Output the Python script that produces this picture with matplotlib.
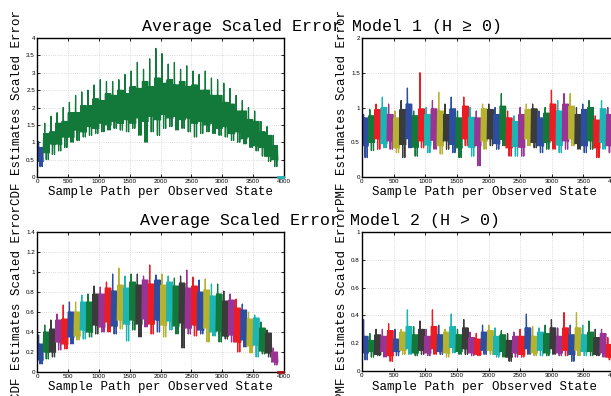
import numpy as np
import matplotlib.pyplot as plt
from matplotlib.ticker import FormatStrFormatter

plt.rcParams.update({
    "font.family": "Liberation Sans",
    "axes.linewidth": 1.0,
    "xtick.direction": "in",
    "ytick.direction": "in",
})

MONO = "Liberation Mono"

COL = {"b": "#2d4da0", "g": "#13793b", "r": "#ec1c24", "c": "#1db4b4",
       "m": "#9a3494", "y": "#b4b22f", "k": "#3b3b3b"}

SEG_L = 100   # samples per observed state, left panels
SEG_R = 99    # samples per observed state, right panels

# ── Model 1, CDF (top left) ─────────────────────────────────────────────────
tl_cols = "b" + "g" * 38
tl_min = [0.30, 0.50, 0.65, 0.75, 0.85, 1.00, 1.05, 1.15, 1.20, 1.25,
          1.30, 1.35, 1.40, 1.35, 1.30, 1.40, 1.20, 1.00, 1.30, 1.20,
          1.40, 1.45, 1.35, 1.40, 1.30, 1.15, 1.25, 1.30, 1.25, 1.20,
          1.15, 1.05, 1.00, 0.95, 0.85, 0.75, 0.60, 0.45, 0.30]
tl_lo = [0.45, 0.70, 0.95, 0.95, 1.15, 1.15, 1.35, 1.30, 1.45, 1.40,
         1.55, 1.50, 1.60, 1.55, 1.65, 1.55, 1.70, 1.60, 1.75, 1.65,
         1.80, 1.70, 1.75, 1.65, 1.70, 1.55, 1.60, 1.50, 1.55, 1.40,
         1.45, 1.25, 1.30, 1.10, 1.15, 0.90, 0.85, 0.60, 0.50]
tl_hi = [0.85, 1.25, 1.30, 1.55, 1.60, 1.85, 1.85, 2.05, 2.05, 2.25,
         2.20, 2.40, 2.35, 2.50, 2.40, 2.60, 2.55, 2.75, 2.60, 2.85,
         2.70, 2.80, 2.65, 2.75, 2.60, 2.65, 2.50, 2.50, 2.35, 2.35,
         2.15, 2.10, 1.90, 1.90, 1.65, 1.60, 1.30, 1.20, 0.90]
tl_max = [1.02, 1.55, 1.75, 1.85, 2.00, 2.15, 2.35, 2.45, 2.50, 2.65,
          2.80, 2.75, 2.75, 2.80, 2.95, 3.05, 3.30, 3.10, 3.40, 3.70,
          3.55, 3.25, 3.30, 3.10, 3.20, 3.05, 2.95, 3.05, 2.85, 2.80,
          2.70, 2.55, 2.35, 2.20, 2.00, 1.90, 1.60, 1.45, 1.20]

# ── Model 1, PMF (top right) ────────────────────────────────────────────────
tr_cols = "bgrcmyk" * 5 + "bgrcm"
tr_min = [0.28, 0.38, 0.40, 0.42, 0.40, 0.35, 0.28, 0.42, 0.30, 0.42,
          0.35, 0.40, 0.33, 0.40, 0.35, 0.28, 0.45, 0.30, 0.16, 0.40,
          0.45, 0.40, 0.45, 0.30, 0.30, 0.30, 0.45, 0.42, 0.35, 0.40,
          0.40, 0.35, 0.40, 0.45, 0.40, 0.35, 0.40, 0.28, 0.40, 0.35]
tr_lo = [0.45, 0.50, 0.55, 0.48, 0.52, 0.42, 0.47, 0.55, 0.43, 0.52,
         0.46, 0.53, 0.45, 0.52, 0.47, 0.42, 0.55, 0.43, 0.45, 0.52,
         0.55, 0.48, 0.54, 0.42, 0.44, 0.43, 0.55, 0.50, 0.45, 0.50,
         0.52, 0.46, 0.52, 0.55, 0.48, 0.45, 0.52, 0.42, 0.50, 0.45]
tr_hi = [0.85, 0.88, 0.97, 1.00, 0.90, 0.85, 0.97, 1.05, 0.88, 0.98,
         0.90, 0.98, 0.95, 0.90, 0.98, 0.85, 1.02, 0.86, 0.85, 0.98,
         0.97, 0.90, 1.02, 0.85, 0.80, 0.90, 0.97, 0.98, 0.85, 0.92,
         1.05, 0.95, 1.05, 1.02, 0.90, 0.97, 1.00, 0.82, 0.98, 0.90]
tr_max = [0.90, 0.97, 1.05, 1.15, 1.05, 0.95, 1.10, 1.28, 0.95, 1.50,
          1.00, 1.10, 1.22, 1.05, 1.15, 0.95, 1.15, 1.00, 0.95, 1.05,
          1.05, 1.00, 1.20, 0.95, 0.88, 1.00, 1.05, 1.05, 0.95, 1.00,
          1.25, 1.10, 1.20, 1.20, 1.00, 1.05, 1.10, 0.88, 1.10, 1.00]

# ── Model 2, CDF (bottom left) ──────────────────────────────────────────────
bl_cols = "bgkmr" + "bycgkmr" * 4 + "bycgkm"
bl_min = [0.08, 0.13, 0.15, 0.22, 0.23, 0.28, 0.32, 0.33, 0.35, 0.38,
          0.40, 0.40, 0.38, 0.43, 0.31, 0.42, 0.35, 0.45, 0.38, 0.40,
          0.35, 0.42, 0.38, 0.24, 0.38, 0.36, 0.38, 0.30, 0.36, 0.30,
          0.33, 0.30, 0.20, 0.25, 0.19, 0.15, 0.18, 0.15, 0.07]
bl_lo = [0.12, 0.20, 0.20, 0.30, 0.28, 0.35, 0.36, 0.42, 0.40, 0.47,
         0.45, 0.50, 0.46, 0.52, 0.48, 0.52, 0.48, 0.53, 0.48, 0.52,
         0.47, 0.51, 0.46, 0.49, 0.44, 0.47, 0.42, 0.44, 0.40, 0.41,
         0.36, 0.37, 0.30, 0.32, 0.26, 0.27, 0.21, 0.19, 0.10]
bl_hi = [0.28, 0.40, 0.43, 0.52, 0.53, 0.60, 0.60, 0.70, 0.70, 0.78,
         0.78, 0.84, 0.81, 0.87, 0.84, 0.90, 0.87, 0.92, 0.88, 0.92,
         0.87, 0.90, 0.86, 0.89, 0.84, 0.86, 0.80, 0.82, 0.76, 0.78,
         0.71, 0.72, 0.64, 0.62, 0.53, 0.54, 0.44, 0.39, 0.20]
bl_max = [0.37, 0.47, 0.52, 0.58, 0.67, 0.70, 0.70, 0.77, 0.78, 0.86,
          0.85, 0.90, 0.98, 1.04, 0.96, 0.98, 0.98, 0.96, 1.07, 0.97,
          0.98, 0.96, 0.94, 0.96, 1.02, 0.95, 0.92, 0.93, 0.88, 0.88,
          0.81, 0.78, 0.73, 0.68, 0.60, 0.57, 0.50, 0.42, 0.24]

# ── Model 2, PMF (bottom right) ─────────────────────────────────────────────
br_cols = "bgkmr" + "bycgkmr" * 5
br_min = [0.08, 0.10, 0.11, 0.10, 0.07, 0.11, 0.12, 0.12, 0.11, 0.12,
          0.11, 0.12, 0.12, 0.10, 0.13, 0.12, 0.12, 0.11, 0.11, 0.12,
          0.12, 0.10, 0.10, 0.07, 0.10, 0.10, 0.12, 0.11, 0.11, 0.11,
          0.12, 0.11, 0.11, 0.07, 0.11, 0.11, 0.11, 0.11, 0.10, 0.08]
br_lo = [0.13, 0.14, 0.12, 0.14, 0.11, 0.14, 0.15, 0.16, 0.13, 0.15,
         0.13, 0.16, 0.14, 0.13, 0.17, 0.14, 0.16, 0.13, 0.12, 0.15,
         0.15, 0.12, 0.14, 0.10, 0.13, 0.12, 0.16, 0.13, 0.15, 0.13,
         0.16, 0.13, 0.15, 0.12, 0.15, 0.14, 0.14, 0.12, 0.13, 0.10]
br_hi = [0.25, 0.22, 0.26, 0.25, 0.29, 0.23, 0.28, 0.32, 0.26, 0.30,
         0.25, 0.32, 0.26, 0.28, 0.32, 0.26, 0.31, 0.24, 0.23, 0.28,
         0.29, 0.25, 0.26, 0.22, 0.25, 0.25, 0.31, 0.25, 0.28, 0.27,
         0.31, 0.25, 0.31, 0.26, 0.31, 0.26, 0.28, 0.24, 0.27, 0.19]
br_max = [0.37, 0.27, 0.30, 0.30, 0.34, 0.30, 0.30, 0.44, 0.32, 0.36,
          0.30, 0.44, 0.33, 0.30, 0.41, 0.30, 0.37, 0.28, 0.27, 0.33,
          0.33, 0.31, 0.29, 0.27, 0.28, 0.30, 0.41, 0.32, 0.31, 0.33,
          0.37, 0.31, 0.42, 0.33, 0.42, 0.33, 0.36, 0.30, 0.30, 0.24]

W, H = 611, 396
fig = plt.figure(figsize=(W / 100, H / 100), dpi=100)


def px_axes(l, t, r, b):
    return fig.add_axes([l / W, 1 - b / H, (r - l) / W, (b - t) / H])


# order in which a state's trace visits its read levels (one vertical stroke each)
ZIG = ["lo", "hi", "lo", "max", "lo", "hi", "min", "hi", "lo", "hi",
       "min", "hi", "lo"]


def draw(ax, seg, cols, vmin, lo, hi, vmax):
    for i, c in enumerate(cols):
        x0 = i * seg
        col = COL[c]
        lv = {"min": vmin[i], "lo": lo[i], "hi": hi[i], "max": vmax[i]}
        xs = x0 + seg * np.linspace(0, 1, len(ZIG))
        ax.plot(xs, [lv[k] for k in ZIG], color=col, lw=0.9)


def style(ax, ymax, ystep):
    ax.set_xlim(0, 4000)
    ax.set_ylim(0, ymax)
    ax.set_xticks(np.arange(0, 4001, 500))
    ax.set_yticks(np.arange(0, ymax + 1e-9, ystep))
    ax.yaxis.set_major_formatter(FormatStrFormatter("%g"))
    ax.tick_params(top=True, right=True, length=2.5, width=0.6,
                   labelsize=4.5, pad=1.5)
    ax.grid(True, color="#cfcfcf", ls=":", lw=0.6)
    ax.set_axisbelow(True)


ax_tl = px_axes(37, 38, 284, 177)
ax_tr = px_axes(362, 38, 615, 177)
ax_bl = px_axes(37, 232, 284, 372)
ax_br = px_axes(362, 232, 615, 371)

draw(ax_tl, SEG_L, tl_cols, tl_min, tl_lo, tl_hi, tl_max)
draw(ax_tr, SEG_R, tr_cols, tr_min, tr_lo, tr_hi, tr_max)
draw(ax_bl, SEG_L, bl_cols, bl_min, bl_lo, bl_hi, bl_max)
draw(ax_br, SEG_R, br_cols, br_min, br_lo, br_hi, br_max)

# last state has no estimate (flat at zero)
ax_tl.plot([len(tl_cols) * SEG_L, 4000 - 20], [0, 0], color=COL["c"],
           lw=2, clip_on=False, zorder=5)
ax_bl.plot([len(bl_cols) * SEG_L, 4000 - 20], [0, 0], color="#a01010",
           lw=2, clip_on=False, zorder=5)

style(ax_tl, 4, 0.5)
style(ax_tr, 2, 0.5)
style(ax_bl, 1.4, 0.2)
style(ax_br, 1, 0.2)

fig.text(322 / W, 1 - 26 / H, "Average Scaled Error Model 1 (H \u2265 0)",
         family=MONO, fontsize=12, ha="center", va="center")
fig.text(320 / W, 1 - 221 / H, "Average Scaled Error Model 2 (H > 0)",
         family=MONO, fontsize=12, ha="center", va="center")

for yc in (107.5, 302):
    fig.text(17 / W, 1 - yc / H, "CDF Estimates Scaled Error", family=MONO,
             fontsize=9, rotation=90, ha="center", va="center")
    fig.text(342 / W, 1 - yc / H, "PMF Estimates Scaled Error", family=MONO,
             fontsize=9, rotation=90, ha="center", va="center")

for yc in (192, 387):
    fig.text(160.5 / W, 1 - yc / H, "Sample Path per Observed State",
             family=MONO, fontsize=9, ha="center", va="center")
    fig.text(485 / W, 1 - yc / H, "Sample Path per Observed State",
             family=MONO, fontsize=9, ha="center", va="center")

fig.savefig("out.png", dpi=100)
